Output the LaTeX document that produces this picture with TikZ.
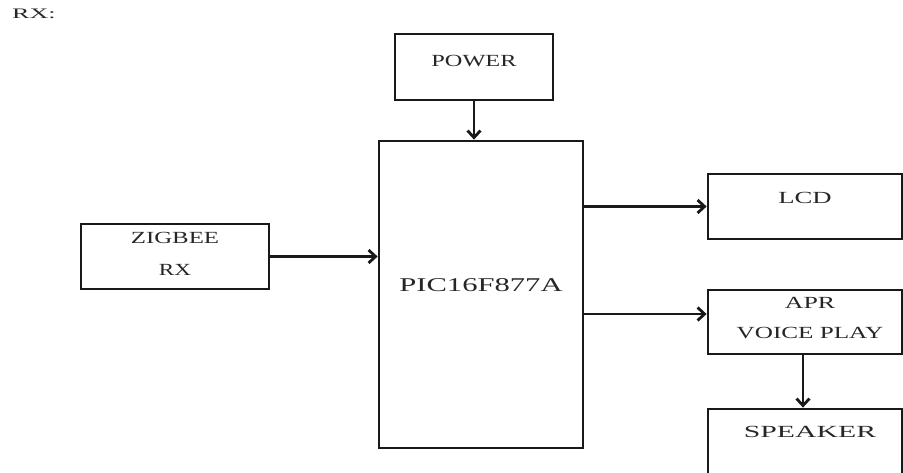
\documentclass[tikz,border=0pt]{standalone}
\usepackage{fontspec}
\setmainfont{Liberation Serif}
\usetikzlibrary{arrows.meta}
\newcommand\sxt[2]{\scalebox{#1}[1]{#2}}
\begin{document}
\begin{tikzpicture}[x=1pt,y=-1pt,
  blk/.style={draw=black!90, line width=2.8pt, inner sep=0pt},
  lbl/.style={inner sep=0pt, text=black!85, font=\fontsize{17}{19}\selectfont},
  arr/.style={draw=black!90, line width=2.8pt, -{Straight Barb[length=7pt,width=13pt]}}]
\useasboundingbox (0,0) rectangle (903,472);
\clip (0,0) rectangle (903,472);
% title label
\node[lbl, anchor=west, font=\fontsize{14.5}{16}\selectfont] (rx) at (12,14) {\sxt{1.8}{RX:}};
% boxes
\node[blk, minimum width=158pt, minimum height=66pt] (power) at (474,67) {};
\node[blk, minimum width=204pt, minimum height=307pt] (pic) at (481,294.5) {};
\node[blk, minimum width=188pt, minimum height=65pt] (zig) at (175,256.5) {};
\node[blk, minimum width=194pt, minimum height=65pt] (lcd) at (805,206.5) {};
\node[blk, minimum width=194pt, minimum height=64pt] (apr) at (805,322) {};
\node[blk, minimum width=194pt, minimum height=80pt] (spk) at (805,449) {};
% texts
\node[lbl] (powerT) at (474,61) {\sxt{1.43}{POWER}};
\node[lbl, font=\fontsize{19.5}{22}\selectfont] (picT) at (481,285) {\sxt{1.57}{PIC16F877A}};
\node[lbl] (zigT1) at (175,238) {\sxt{1.46}{ZIGBEE}};
\node[lbl] (zigT2) at (175,270) {\sxt{1.36}{RX}};
\node[lbl] (lcdT) at (805,198) {\sxt{1.57}{LCD}};
\node[lbl] (aprT1) at (810,303) {\sxt{1.52}{APR}};
\node[lbl] (aprT2) at (810,333) {\sxt{1.48}{VOICE PLAY}};
\node[lbl] (spkT) at (810,432) {\sxt{1.75}{SPEAKER}};
% connectors
\draw[arr] (power.south) -- (power.south |- pic.north);
\draw[arr] (zig.east) -- (zig.east -| pic.west);
\draw[arr] (lcd.west -| pic.east) -- (lcd.west);
\draw[arr] ([yshift=8pt]apr.west -| pic.east) -- ([yshift=8pt]apr.west);
\draw[arr] ([xshift=-2pt]apr.south) -- ([xshift=-2pt]apr.south |- spk.north);
\end{tikzpicture}
\end{document}
